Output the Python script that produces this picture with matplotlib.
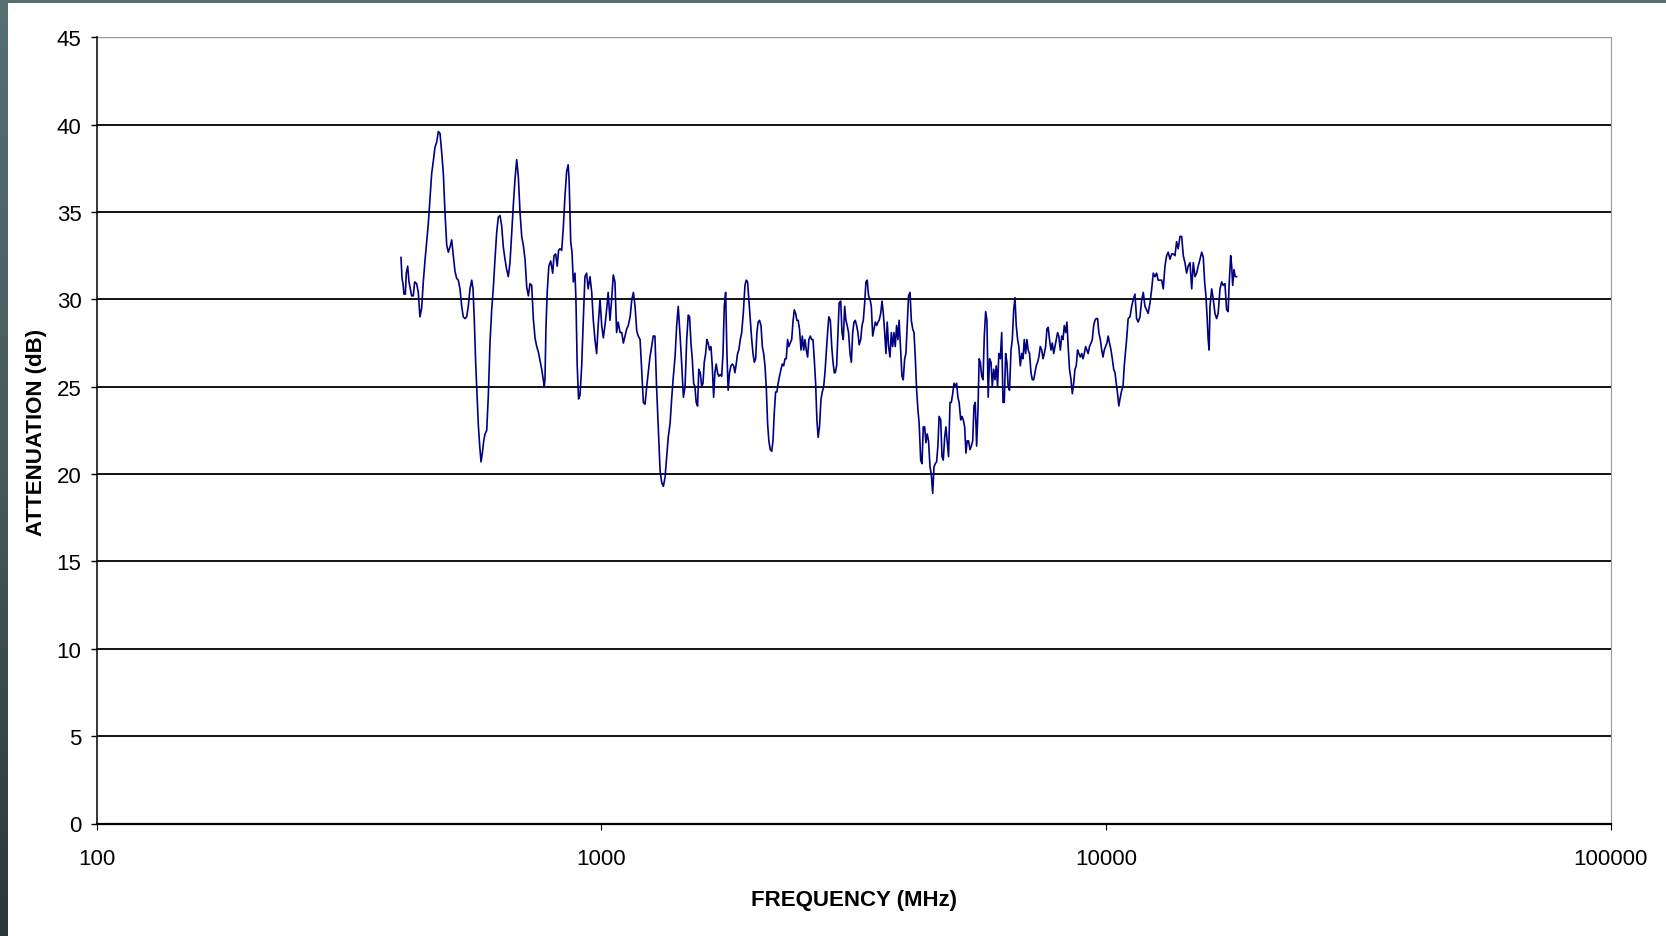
import numpy as np
import matplotlib
matplotlib.use("Agg")
import matplotlib.pyplot as plt
from matplotlib.patches import Rectangle

# attenuation sweep
freq_mhz = [
    400.8, 402.7, 404.5, 406.3, 408.8, 410.6, 413.2, 415.7, 417.6, 420.8,
    423.9, 426.6, 430.5, 433.7, 437.0, 440.4, 443.7, 447.1, 450.6, 453.9,
    457.5, 461.0, 464.4, 468.0, 471.7, 475.1, 478.9, 482.6, 486.2, 490.0,
    493.8, 497.4, 501.2, 505.1, 508.8, 512.8, 516.7, 520.5, 524.6, 528.7,
    532.5, 536.7, 540.8, 544.8, 549.1, 553.4, 556.7, 560.0, 563.6, 567.0,
    570.4, 574.0, 577.4, 580.9, 584.6, 588.1, 592.6, 597.0, 601.5, 606.2,
    610.6, 615.4, 620.1, 624.7, 629.6, 634.5, 639.2, 644.1, 649.1, 653.9,
    659.0, 664.1, 669.1, 674.3, 679.5, 684.6, 689.8, 695.2, 700.3, 705.8,
    711.3, 716.6, 722.0, 727.6, 733.0, 738.7, 744.4, 749.9, 755.7, 761.6,
    767.2, 770.5, 773.0, 776.4, 780.9, 786.8, 793.5, 800.8, 805.5, 811.6,
    817.4, 822.5, 827.9, 834.3, 840.4, 846.8, 853.2, 859.3, 863.1, 869.4,
    874.5, 879.7, 886.4, 890.3, 895.5, 901.1, 907.0, 914.0, 920.7, 927.7,
    934.8, 941.4, 949.4, 956.8, 963.7, 971.1, 978.5, 985.4, 993.7, 1001.4,
    1008.7, 1016.4, 1024.1, 1031.4, 1040, 1048, 1055.7, 1063.8, 1071.8, 1079.4,
    1089, 1097.5, 1105.4, 1113.9, 1122.3, 1130.3, 1140, 1148.9, 1157.2, 1166.0,
    1174.9, 1183.2, 1193, 1202.3, 1211.0, 1220.3, 1229.5, 1238.2, 1248, 1257.7,
    1266.8, 1276.6, 1286.2, 1295.3, 1307, 1317.2, 1326.7, 1336.9, 1347.0, 1356.5,
    1368, 1378.6, 1388.6, 1399.3, 1409.8, 1419.8, 1432, 1443.1, 1453.6, 1464.7,
    1475.8, 1486.3, 1495.3, 1504.8, 1513.7, 1523.3, 1532.2, 1541.1, 1550.7, 1559.6,
    1570.1, 1580.2, 1589.5, 1598.8, 1608.8, 1618.2, 1627.4, 1637.5, 1648.5, 1658.2,
    1668.7, 1678.5, 1688.3, 1698.8, 1708.4, 1720.4, 1731.3, 1741.5, 1751.8, 1762.7,
    1773.0, 1783.1, 1794.1, 1806.2, 1816.9, 1828.4, 1839.1, 1849.8, 1861.3, 1871.9,
    1884.6, 1896.6, 1910.4, 1925.0, 1936.2, 1948.2, 1959.4, 1972.7, 1985.3, 1997.0,
    2008.7, 2021.2, 2033.0, 2044.7, 2057.3, 2071.4, 2083.7, 2096.8, 2109.1, 2121.4,
    2134.6, 2146.7, 2161.0, 2174.8, 2187.6, 2200.4, 2214.1, 2227.1, 2239.8, 2253.6,
    2269.3, 2282.7, 2297.2, 2310.6, 2324.1, 2338.5, 2351.8, 2367.2, 2382.4, 2396.4,
    2410.5, 2425.5, 2439.6, 2453.6, 2468.7, 2486.3, 2501.0, 2516.8, 2531.6, 2546.3,
    2562.1, 2576.7, 2593.5, 2610.1, 2625.5, 2640.9, 2657.3, 2672.9, 2688.2, 2704.7,
    2723.4, 2739.5, 2756.8, 2773.0, 2789.1, 2806.4, 2822.4, 2841.9, 2860.1, 2876.9,
    2893.8, 2906.7, 2924.8, 2941.9, 2958.6, 2979.5, 2997.1, 3014.8, 3033.9, 3051.4,
    3069.2, 3088.2, 3109, 3127.5, 3147.4, 3165.8, 3184.2, 3204.1, 3222.8, 3241.1,
    3264.4, 3283.7, 3303.1, 3324.0, 3343.2, 3362.7, 3383.5, 3406, 3426.2, 3448.0,
    3468.3, 3488.4, 3510.2, 3530.7, 3550.8, 3576.4, 3597.6, 3618.8, 3641.6, 3662.7,
    3684.1, 3706.9, 3731, 3753.2, 3777.0, 3799.2, 3821.3, 3845.2, 3867.6, 3889.6,
    3917.5, 3940.7, 3963.9, 3989.0, 4012.0, 4035.4, 4060.4, 4088, 4112.3, 4138.4,
    4162.7, 4186.9, 4213.1, 4237.6, 4261.7, 4291.7, 4317.1, 4342.5, 4370.0, 4395.2,
    4420.9, 4448.3, 4478, 4504.6, 4533.3, 4559.9, 4586.4, 4615.0, 4641.9, 4668.3,
    4702.0, 4729.8, 4757.7, 4787.8, 4815.4, 4843.5, 4873.5, 4906, 4935.1, 4966.5,
    4995.7, 5024.7, 5056.1, 5085.6, 5114.5, 5151.4, 5181.9, 5212.4, 5245.4, 5275.7,
    5306.5, 5339.4, 5375, 5406.9, 5441.3, 5473.3, 5505.1, 5539.5, 5571.7, 5603.4,
    5633.7, 5669.7, 5703.1, 5736.6, 5772.3, 5806.0, 5839.2, 5875.2, 5914.9, 5949.9,
    5987.5, 6022.5, 6057.6, 6095.3, 6130.0, 6171.4, 6210.9, 6247.4, 6284.1, 6323.2,
    6360.2, 6396.6, 6436.0, 6480.5, 6518.8, 6560.0, 6598.4, 6636.8, 6678.1, 6716.1,
    6761.3, 6804.5, 6844.5, 6884.7, 6927.6, 6968.1, 7007.9, 7051.1, 7099.3, 7141.3,
    7186.4, 7228.5, 7270.5, 7315.8, 7357.5, 7407.1, 7454.5, 7498.3, 7542.4, 7589.3,
    7633.7, 7677.3, 7724.7, 7777.4, 7823.4, 7872.8, 7918.9, 7965.0, 8014.5, 8060.2,
    8115.1, 8167.0, 8215.0, 8263.2, 8314.7, 8363.3, 8411.1, 8462.9, 8520.8, 8571.1,
    8625.3, 8675.8, 8726.3, 8780.6, 8830.6, 8890.2, 8947.0, 8999.6, 9052.5, 9108.8,
    9162.1, 9214.5, 9271.3, 9334.5, 9389.7, 9449.0, 9504.3, 9559.6, 9619.1, 9673.9,
    9739.3, 9801.6, 9859.2, 9917.1, 9978.9, 10037, 10095, 10157, 10227, 10287,
    10352, 10413, 10473, 10538, 10598, 10670, 10738, 10801, 10864, 10981,
    11059, 11152, 11239, 11320, 11407, 11493, 11575, 11673, 11764, 11849,
    11940, 12030, 12115, 12218, 12313, 12402, 12497, 12592, 12681, 12788,
    12887, 12981, 13080, 13179, 13273, 13385, 13489, 13587, 13691, 13794,
    13892, 14010, 14119, 14221, 14330, 14438, 14541, 14664, 14778, 14885,
    14999, 15113, 15220, 15348, 15467, 15579, 15677, 15769, 15860, 15931,
    16002, 16064, 16189, 16307, 16431, 16556, 16673, 16814, 16945, 17068,
    17198, 17328, 17450, 17527, 17655, 17736, 17816, 17921, 18026, 18139,
]

atten_db = [
    32.4, 31.2, 30.9, 30.3, 30.3, 31.5, 31.9, 31.0, 30.7, 30.2,
    30.2, 31.0, 30.9, 30.4, 29.0, 29.5, 31.0, 32.2, 33.3, 34.3,
    35.8, 37.2, 37.9, 38.7, 39.0, 39.6, 39.5, 38.4, 37.2, 34.9,
    33.1, 32.7, 33.0, 33.4, 32.5, 31.6, 31.2, 31.1, 30.6, 29.6,
    29.0, 28.9, 29.0, 29.6, 30.6, 31.1, 30.6, 28.8, 26.3, 24.5,
    22.8, 21.6, 20.7, 21.2, 21.9, 22.3, 22.5, 24.5, 27.5, 29.4,
    30.6, 32.3, 33.8, 34.7, 34.8, 34.2, 33.0, 32.3, 31.7, 31.3,
    32.1, 33.8, 35.4, 36.9, 38.0, 37.0, 35.0, 33.6, 33.1, 32.3,
    30.7, 30.2, 30.9, 30.8, 28.9, 27.8, 27.3, 27.0, 26.5, 26.0,
    25.4, 25.0, 25.4, 28.3, 30.4, 31.9, 32.2, 31.5, 32.5, 32.6,
    31.9, 32.8, 32.9, 32.8, 34.1, 35.9, 37.3, 37.7, 36.8, 33.3,
    32.7, 31.0, 31.5, 30.0, 26.2, 24.3, 24.5, 26.2, 28.8, 31.3,
    31.5, 30.6, 31.3, 30.4, 28.8, 27.7, 26.9, 28.5, 30.0, 28.5,
    27.8, 28.5, 29.4, 30.4, 28.8, 30.0, 31.4, 31.0, 28.1, 28.7,
    28.1, 28.1, 27.5, 27.9, 28.3, 28.5, 29.0, 30.0, 30.4, 29.6,
    28.2, 27.9, 27.7, 25.8, 24.1, 24.0, 25.0, 25.8, 26.7, 27.3,
    27.9, 27.9, 25.0, 22.9, 20.2, 19.5, 19.3, 19.8, 21.0, 22.1,
    22.9, 24.4, 25.6, 26.7, 28.5, 29.6, 27.9, 26.2, 24.4, 25.0,
    27.7, 29.1, 29.0, 27.5, 26.6, 25.2, 25.0, 24.1, 23.9, 26.0,
    25.8, 25.0, 25.2, 26.4, 26.9, 27.7, 27.5, 27.1, 27.3, 26.2,
    24.4, 25.8, 26.3, 25.8, 25.6, 25.7, 25.6, 26.9, 29.6, 30.4,
    26.9, 24.8, 25.8, 26.2, 26.3, 26.2, 25.8, 26.3, 26.9, 27.1,
    27.7, 28.1, 29.2, 30.8, 31.1, 31.0, 30.0, 28.8, 27.7, 26.9,
    26.4, 26.6, 28.1, 28.7, 28.8, 28.5, 27.3, 26.9, 26.2, 25.0,
    22.9, 21.9, 21.4, 21.3, 21.9, 23.5, 24.7, 24.7, 25.2, 25.6,
    26.0, 26.3, 26.2, 26.6, 26.6, 27.7, 27.3, 27.5, 27.7, 28.7,
    29.4, 29.2, 28.8, 28.8, 28.3, 27.1, 27.9, 27.1, 27.7, 27.1,
    26.7, 27.7, 27.9, 27.7, 27.7, 26.6, 25.2, 23.1, 22.1, 22.7,
    24.3, 24.7, 25.0, 25.8, 26.9, 28.1, 29.0, 28.8, 27.3, 26.4,
    25.8, 25.8, 26.2, 28.1, 29.8, 29.9, 28.1, 27.7, 29.6, 28.8,
    28.5, 28.1, 26.9, 26.4, 28.1, 28.7, 28.8, 28.5, 28.1, 27.4,
    27.7, 28.5, 28.8, 29.8, 31.0, 31.1, 30.2, 30.0, 29.6, 27.9,
    28.3, 28.7, 28.5, 28.7, 28.8, 29.2, 29.9, 29.2, 28.1, 26.9,
    28.7, 27.3, 26.7, 28.1, 27.3, 28.1, 27.3, 28.5, 27.7, 28.8,
    27.1, 25.6, 25.4, 26.6, 26.9, 28.5, 30.2, 30.4, 28.8, 28.3,
    28.1, 26.7, 24.8, 23.7, 22.9, 20.8, 20.6, 22.7, 22.7, 21.8,
    22.3, 21.9, 20.4, 20.0, 18.9, 20.4, 20.6, 20.7, 21.6, 23.3,
    23.1, 21.0, 20.8, 22.1, 22.7, 21.9, 21.0, 24.1, 24.1, 24.6,
    25.2, 25.0, 25.2, 24.4, 24.1, 23.1, 23.3, 23.1, 22.7, 21.2,
    21.9, 21.9, 21.4, 21.6, 21.9, 23.9, 24.1, 21.6, 23.5, 26.6,
    26.4, 25.6, 25.4, 27.9, 29.3, 28.8, 24.4, 26.6, 26.4, 25.0,
    26.0, 25.4, 26.2, 25.0, 26.9, 26.6, 28.1, 24.1, 24.1, 26.9,
    26.4, 25.0, 24.8, 27.1, 27.7, 29.4, 30.1, 28.5, 27.7, 27.3,
    26.2, 26.9, 26.6, 27.7, 26.9, 27.7, 27.1, 26.9, 25.8, 25.4,
    25.4, 25.8, 26.2, 26.4, 26.7, 27.3, 27.1, 26.6, 26.9, 27.3,
    28.3, 28.4, 27.7, 27.1, 27.5, 26.9, 27.3, 27.7, 28.1, 27.9,
    27.1, 27.9, 27.7, 28.5, 28.1, 28.7, 27.3, 26.0, 25.4, 24.6,
    25.2, 26.0, 26.2, 27.1, 26.9, 26.7, 26.9, 26.6, 26.9, 27.3,
    27.1, 26.9, 27.3, 27.5, 27.7, 28.5, 28.8, 28.9, 28.9, 28.1,
    27.7, 27.1, 26.7, 27.1, 27.3, 27.5, 27.9, 27.5, 27.1, 26.6,
    26.0, 25.8, 25.2, 24.6, 23.9, 24.4, 24.8, 25.0, 26.2, 27.7,
    28.9, 29.0, 29.6, 30.0, 30.3, 28.9, 28.7, 29.0, 30.0, 30.4,
    29.6, 29.4, 29.2, 29.8, 30.6, 31.5, 31.3, 31.5, 31.1, 31.1,
    31.1, 30.6, 31.9, 32.5, 32.7, 32.3, 32.6, 32.6, 32.5, 33.3,
    32.9, 33.6, 33.6, 32.5, 32.1, 31.5, 31.9, 32.1, 30.6, 32.1,
    31.3, 31.5, 31.9, 32.3, 32.7, 32.4, 31.0, 30.2, 28.9, 27.7,
    27.1, 29.6, 30.6, 30.0, 29.2, 28.9, 29.2, 30.6, 31.0, 30.8,
    30.9, 29.4, 29.3, 30.8, 32.5, 31.9, 30.8, 31.7, 31.3, 31.3,
]

x_ticks = [100, 1000, 10000, 100000]
y_ticks = [0, 5, 10, 15, 20, 25, 30, 35, 40, 45]

W, H = 1666, 937
plt.rcParams['font.family'] = ['Liberation Sans', 'DejaVu Sans']

fig = plt.figure(figsize=(W / 100, H / 100), dpi=100)
fig.patch.set_facecolor('white')

# dark slide border on the left and top
band = fig.add_axes([0, 0, 8 / W, 1])
band.imshow(np.linspace(0, 1, 200).reshape(-1, 1), aspect='auto',
            cmap=matplotlib.colors.LinearSegmentedColormap.from_list(
                'edge', ['#566f71', '#46595b', '#2c3839']),
            extent=[0, 1, 0, 1])
band.set_axis_off()
fig.add_artist(Rectangle((0, 1 - 4 / H), 1, 4 / H, transform=fig.transFigure,
                         color='#566f71', lw=0))

ax = fig.add_axes([96.7 / W, 1 - 824.5 / H, 1514.1 / W, 786.2 / H])
ax.plot(freq_mhz, atten_db, color='#000080', lw=1.2, zorder=3)

ax.set_xscale('log')
ax.set_xlim(100, 100000)
ax.set_ylim(0, 45)
ax.set_xticks(x_ticks)
ax.set_xticklabels([str(t) for t in x_ticks])
ax.xaxis.set_minor_locator(matplotlib.ticker.NullLocator())
ax.set_yticks(y_ticks)
ax.set_yticklabels([str(t) for t in y_ticks])

for y in y_ticks[1:-1]:
    ax.axhline(y, color='#111111', lw=1.4, zorder=1)
ax.axhline(45, color='#9a9a9a', lw=1.0, zorder=1)

ax.spines['top'].set_visible(False)
ax.spines['right'].set_color('#9a9a9a')
ax.spines['right'].set_linewidth(0.8)
ax.spines['left'].set_color('black')
ax.spines['left'].set_linewidth(1.1)
ax.spines['bottom'].set_color('black')
ax.spines['bottom'].set_linewidth(1.6)

ax.tick_params(axis='y', direction='out', length=4.5, width=1.0, pad=6.5,
               labelsize=16, colors='black')
ax.tick_params(axis='x', direction='out', length=4.5, width=0.8, pad=13.5,
               labelsize=16, colors='black')

fig.text(853.7 / W, 1 - 905.7 / H, 'FREQUENCY (MHz)', fontsize=16,
         fontweight='bold', ha='center', va='baseline')
fig.text(41.7 / W, 1 - 432.5 / H, 'ATTENUATION (dB)', fontsize=16,
         fontweight='bold', rotation=90, rotation_mode='anchor',
         ha='center', va='baseline')

fig.savefig('out.png', dpi=100, facecolor='white')
